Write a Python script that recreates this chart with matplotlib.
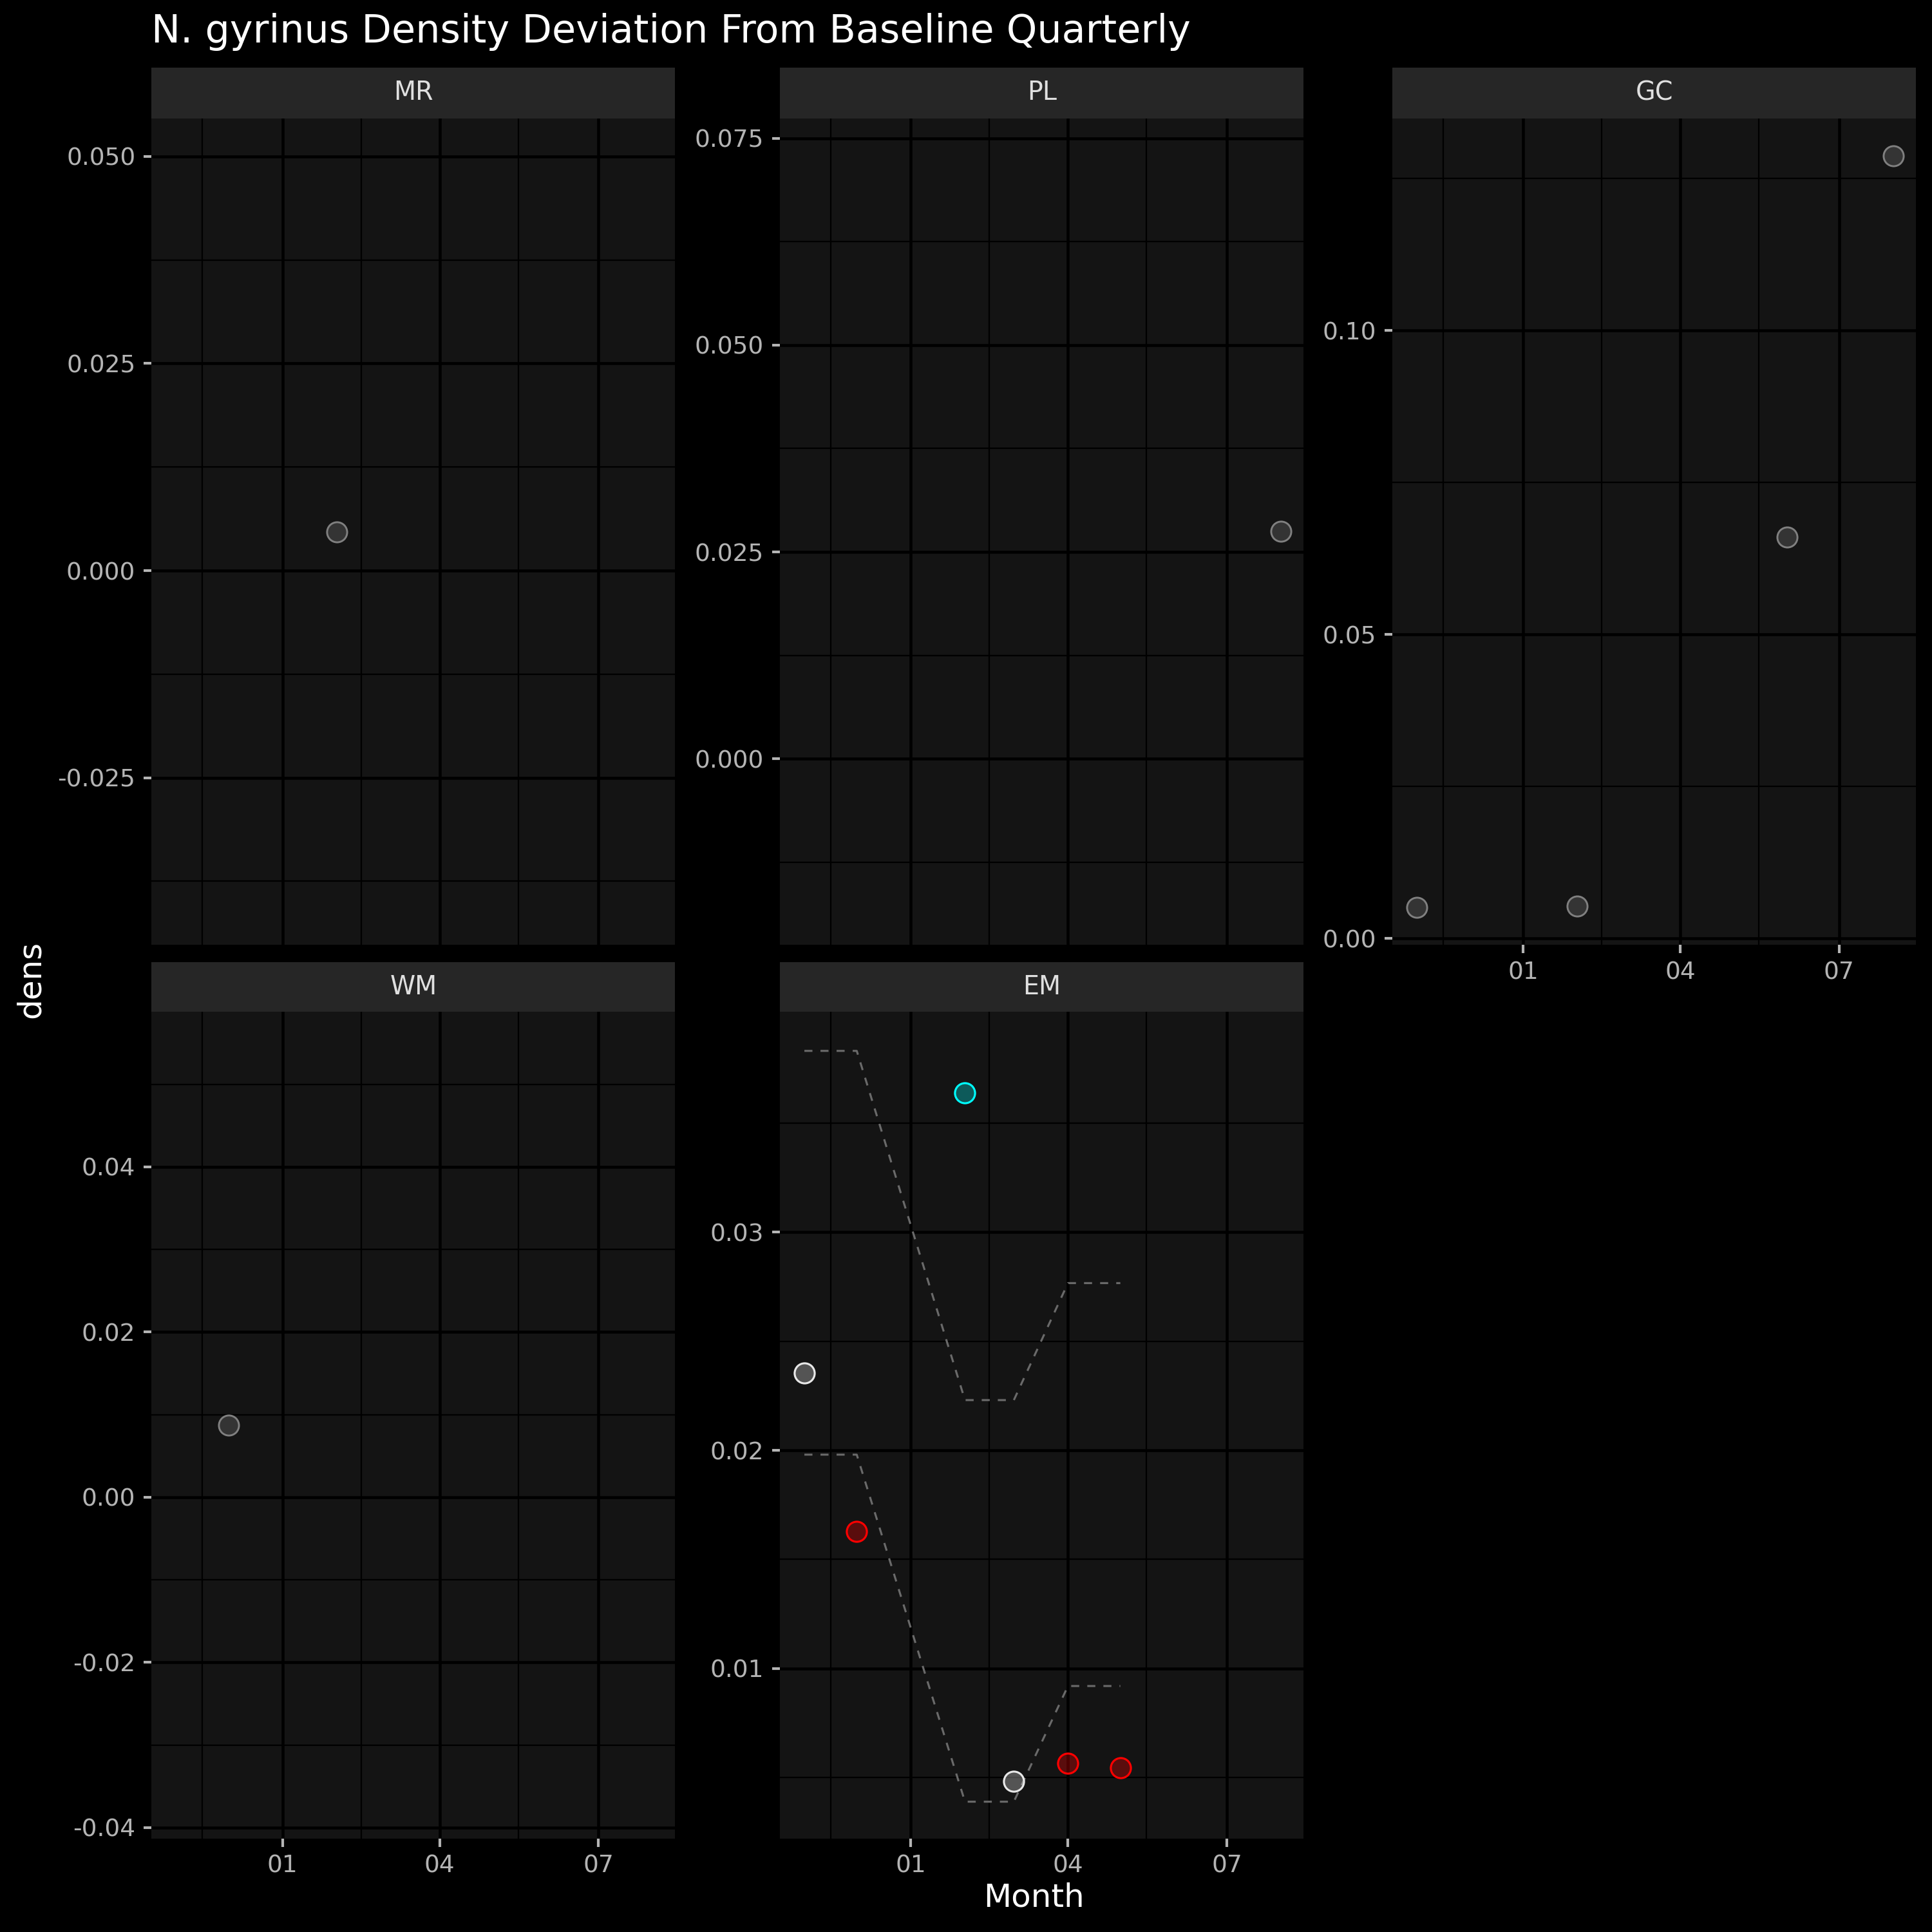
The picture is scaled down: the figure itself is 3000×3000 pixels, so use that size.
#!/usr/bin/env python3
"""
N. gyrinus density deviation, faceted by site (dark ggplot-like theme)
"""

import matplotlib
matplotlib.use('Agg')
import matplotlib.pyplot as plt
import matplotlib.dates as mdates
import numpy as np
from datetime import date

# ---- data ----
sites = ['MR', 'PL', 'GC', 'WM', 'EM']

mr_dates = [date(2023, 2, 1)]
mr_dens = [0.0047]

pl_dates = [date(2023, 8, 1)]
pl_dens = [0.0275]

gc_dates = [date(2022, 11, 1), date(2023, 2, 1), date(2023, 6, 1), date(2023, 8, 1)]
gc_dens = [0.0051, 0.0053, 0.0660, 0.1287]

wm_dates = [date(2022, 12, 1)]
wm_dens = [0.0087]

em_dates = [date(2022, 11, 1), date(2022, 12, 1), date(2023, 2, 1),
            date(2023, 3, 1), date(2023, 4, 1), date(2023, 5, 1)]
em_dens = [0.02355, 0.01628, 0.03637, 0.00482, 0.00566, 0.00544]
em_flag = ['normal', 'low', 'high', 'normal', 'low', 'low']
em_upper = [0.0383, 0.0383, 0.0223, 0.0223, 0.02766, 0.02766]
em_lower = [0.0198, 0.0198, 0.0039, 0.0039, 0.0092, 0.0092]

# y limits (free scales per facet)
ylims = {
    'MR': (-0.0452, 0.0546),
    'PL': (-0.0225, 0.0774),
    'GC': (-0.0011, 0.1349),
    'WM': (-0.0413, 0.0588),
    'EM': (0.00222, 0.0401),
}
yticks = {
    'MR': [-0.025, 0.0, 0.025, 0.050],
    'PL': [0.0, 0.025, 0.050, 0.075],
    'GC': [0.0, 0.05, 0.10],
    'WM': [-0.04, -0.02, 0.0, 0.02, 0.04],
    'EM': [0.01, 0.02, 0.03],
}
ytick_fmt = {'MR': '{:.3f}', 'PL': '{:.3f}', 'GC': '{:.2f}', 'WM': '{:.2f}', 'EM': '{:.2f}'}

series = {
    'MR': (mr_dates, mr_dens),
    'PL': (pl_dates, pl_dens),
    'GC': (gc_dates, gc_dens),
    'WM': (wm_dates, wm_dens),
    'EM': (em_dates, em_dens),
}

# ---- theme ----
BG = '#000000'
PANEL = '#141414'
STRIP = '#262626'
TICKCOL = '#b4b4b4'
STRIPTXT = '#e0e0e0'

flag_style = {
    'normal': dict(face=(0.9, 0.9, 0.9, 0.31), edge='#e8e8e8'),
    'low': dict(face=(1.0, 0.0, 0.0, 0.30), edge='#ff0000'),
    'high': dict(face=(0.0, 1.0, 1.0, 0.30), edge='#00ffff'),
}
default_face = (0.5, 0.5, 0.5, 0.30)
default_edge = '#808080'

xmin = date(2022, 10, 18)
xmax = date(2023, 8, 14)
major_x = [date(2023, 1, 1), date(2023, 4, 1), date(2023, 7, 1)]
minor_x = [date(2022, 11, 16), date(2023, 2, 15), date(2023, 5, 16)]

fig = plt.figure(figsize=(10, 10), dpi=300, facecolor=BG)

W = 1568.0
cols = [(123, 548), (633, 1058), (1130, 1555)]
rows = [(55, 96, 767), (781, 821, 1492)]
layout = {'MR': (0, 0), 'PL': (0, 1), 'GC': (0, 2), 'WM': (1, 0), 'EM': (1, 1)}

for site in sites:
    r, c = layout[site]
    x0, x1 = cols[c]
    s0, p0, p1 = rows[r]
    ax = fig.add_axes([x0 / W, 1 - p1 / W, (x1 - x0) / W, (p1 - p0) / W])
    sax = fig.add_axes([x0 / W, 1 - p0 / W, (x1 - x0) / W, (p0 - s0) / W])
    sax.set_facecolor(STRIP)
    sax.set_xticks([])
    sax.set_yticks([])
    for sp in sax.spines.values():
        sp.set_visible(False)
    sax.text(0.5, 0.5, site, ha='center', va='center', color=STRIPTXT, fontsize=9.5)

    ax.set_facecolor(PANEL)
    for sp in ax.spines.values():
        sp.set_visible(False)

    ax.set_xlim(mdates.date2num(xmin), mdates.date2num(xmax))
    ax.set_ylim(*ylims[site])

    # grid
    yt = yticks[site]
    ymin, ymax = ylims[site]
    ymid = [(a + b) / 2 for a, b in zip(yt[:-1], yt[1:])]
    step = yt[1] - yt[0]
    ymid = [yt[0] - step / 2] + ymid + [yt[-1] + step / 2]
    for v in ymid:
        if ymin < v < ymax:
            ax.axhline(v, color='black', lw=0.55, zorder=0.5)
    for v in yt:
        ax.axhline(v, color='black', lw=1.1, zorder=0.6)
    for d in minor_x:
        ax.axvline(mdates.date2num(d), color='black', lw=0.55, zorder=0.5)
    for d in major_x:
        ax.axvline(mdates.date2num(d), color='black', lw=1.1, zorder=0.6)

    ax.set_yticks(yt)
    ax.set_yticklabels([ytick_fmt[site].format(v) for v in yt])
    ax.set_xticks([mdates.date2num(d) for d in major_x])
    show_x = site in ('GC', 'WM', 'EM')
    if show_x:
        ax.set_xticklabels([d.strftime('%m') for d in major_x])
    else:
        ax.set_xticklabels([])
    ax.tick_params(axis='both', colors=TICKCOL, labelcolor=TICKCOL, labelsize=9,
                   length=3, width=1.0, pad=3)
    if not show_x:
        ax.tick_params(axis='x', length=0)

    xd, yd = series[site]
    xn = mdates.date2num(xd)
    if site == 'EM':
        ax.plot(xn, em_upper, color='#6a6a6a', lw=0.75, ls=(0, (4, 4)), zorder=2)
        ax.plot(xn, em_lower, color='#6a6a6a', lw=0.75, ls=(0, (4, 4)), zorder=2)
        for xi, yi, fl in zip(xn, yd, em_flag):
            st = flag_style[fl]
            ax.scatter([xi], [yi], s=56, facecolor=st['face'], edgecolor=st['edge'],
                       linewidth=0.75, zorder=3)
    else:
        ax.scatter(xn, yd, s=56, facecolor=default_face, edgecolor=default_edge,
                   linewidth=0.7, zorder=3)

fig.text(123 / W, 1 - 26 / W, 'N. gyrinus Density Deviation From Baseline Quarterly',
         ha='left', va='center', color='white', fontsize=14.5)
fig.text(839 / W, 1 - 1540 / W, 'Month', ha='center', va='center',
         color='white', fontsize=12)
fig.text(25 / W, 1 - 795 / W, 'dens', ha='center', va='center',
         color='white', fontsize=12, rotation=90)

plt.savefig('out.png', dpi=300, facecolor=BG)
plt.close()
